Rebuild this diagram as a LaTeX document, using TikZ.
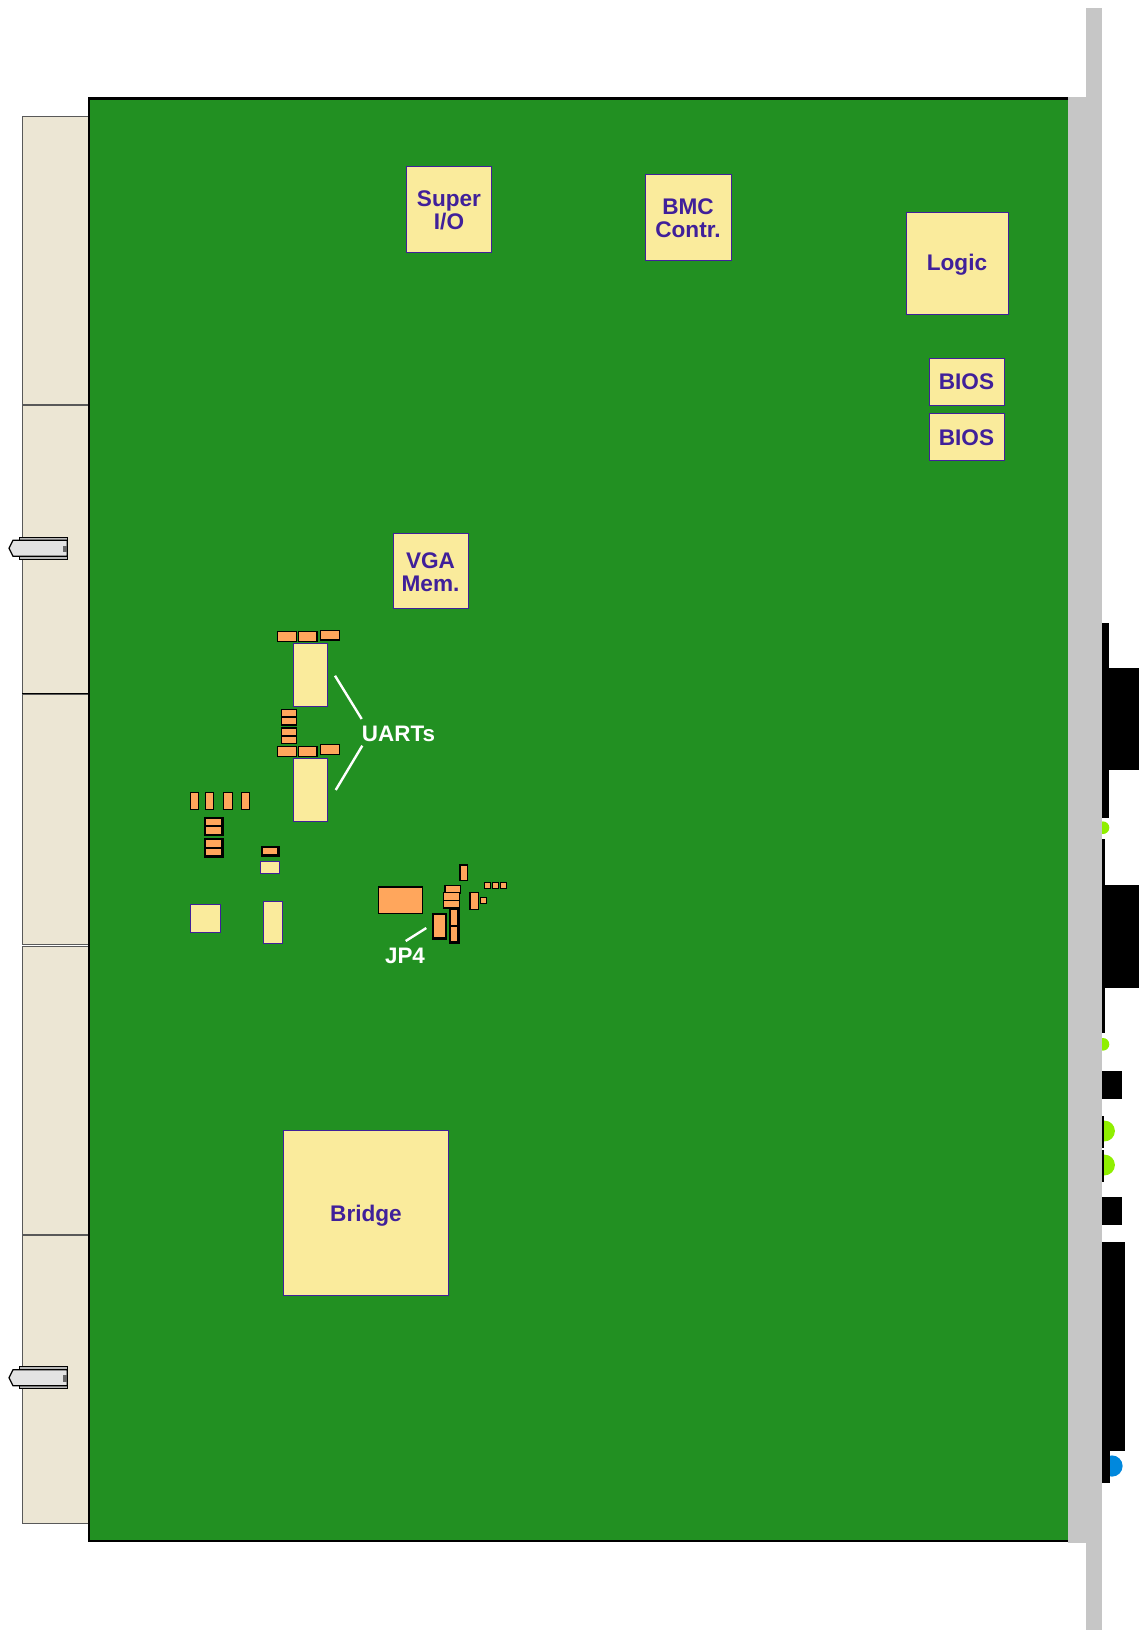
\documentclass[tikz,border=0pt]{standalone}
\usepackage{fontspec}
\setmainfont{Liberation Sans}
\usepackage{xcolor}
\definecolor{boardgreen}{HTML}{229022}
\definecolor{panelgrey}{HTML}{C6C6C6}
\definecolor{facecream}{HTML}{ECE6D4}
\definecolor{chipcream}{HTML}{FAEB9C}
\definecolor{partorange}{HTML}{FFA65C}
\definecolor{chipblue}{HTML}{40209A}
\definecolor{ledgreen}{HTML}{8FEF00}
\definecolor{ledblue}{HTML}{0088DD}
\tikzset{
  chip/.style={draw=chipblue,line width=0.5pt,fill=chipcream},
  part/.style={draw=black,line width=0.6pt,fill=partorange},
  partthick/.style={draw=black,line width=1.2pt,fill=partorange},
  face/.style={draw=black!65,line width=0.5pt,fill=facecream},
  chiplabel/.style={text=chipblue,font=\fontsize{11.3}{11.5}\selectfont\bfseries,align=center,inner sep=0pt},
  whitelabel/.style={text=white,font=\fontsize{11.2}{12}\selectfont\bfseries,inner sep=0pt},
  leader/.style={draw=white,line width=1.2pt},
  plug/.style={fill=black},
}
\begin{document}
\begin{tikzpicture}[x=0.5pt,y=-0.5pt]
        \useasboundingbox (0,0) rectangle (1139,1630);

        % Ansichten der Frontplatte
        \fill[ledgreen] (1103,827.7) circle (6.3);
        \fill[ledgreen] (1103,1044.3) circle (6.3);
        \fill[ledgreen] (1104.5,1131) circle (10.4);
        \fill[ledgreen] (1104.5,1165) circle (10.4);
        \fill[ledblue] (1112,1466) circle (10.6);

        \fill[plug] (1100,622.7) rectangle (1109,817.7);
        \fill[plug] (1100,668) rectangle (1139,770);
        \fill[plug] (1100,839) rectangle (1105,1033);
        \fill[plug] (1100,885) rectangle (1139,987.7);
        \fill[plug] (1100,1071) rectangle (1122,1098.7);
        \fill[plug] (1100,1116) rectangle (1104,1147.7);
        \fill[plug] (1100,1150) rectangle (1104,1181.7);
        \fill[plug] (1100,1197) rectangle (1122,1224.7);
        \fill[plug] (1100,1242) rectangle (1125,1450.7);
        \fill[plug] (1100,1450) rectangle (1110.3,1482.7);

        % Frontblech
        \fill[panelgrey] (1086,8) rectangle (1102,1630);
        \fill[panelgrey] (1068,97) rectangle (1102,1543);

        % Steckerleiste links
        \draw[face] (22,116) rectangle (88,404);
        \draw[face] (22,405) rectangle (88,693);
        \draw[face] (22,694) rectangle (88,944);
        \draw[face] (22,946) rectangle (88,1234);
        \draw[face] (22,1235) rectangle (88,1523);
        \draw[black,line width=0.6pt] (22,693.5) -- (88,693.5);

        % Platine
        \fill[boardgreen] (88.5,98.5) rectangle (1068,1541);
        \draw[black,line width=1.3pt] (1068,98.5) -- (88.8,98.5) -- (88.8,1541) -- (1068,1541);

        % Hebel
        \foreach \dy in {0,829.5} {
          \draw[black,line width=0.6pt,fill=black!28] (19.8,537.3+\dy) rectangle (67.7,559.3+\dy);
          \draw[black,line width=0.6pt,fill=black!11] (9,548.3+\dy) -- (13,540.3+\dy) -- (67.3,540.3+\dy) -- (67.3,556.3+\dy) -- (13,556.3+\dy) -- cycle;
          \fill[black!60] (63.3,545.7+\dy) rectangle (67.3,552+\dy);
        }

        % Bausteine
        \draw[chip] (406,166) rectangle (491.5,252);
        \draw[chip] (645.6,174.5) rectangle (731,260);
        \draw[chip] (906,212) rectangle (1008,314);
        \draw[chip] (929,358) rectangle (1004,405);
        \draw[chip] (929,413.5) rectangle (1004,460);
        \draw[chip] (393.3,533) rectangle (468,608);
        \draw[chip] (293.3,643.3) rectangle (327.7,706.5);
        \draw[chip] (293.3,758) rectangle (327.7,821.7);
        \draw[chip] (283.8,1130) rectangle (448,1295);
        \draw[chip] (260.3,861) rectangle (279.3,873.3);
        \draw[chip] (190,904.3) rectangle (220.7,932.7);
        \draw[chip] (263.7,901.3) rectangle (282.7,943.5);

        \node[chiplabel] (superio) at (449,210) {Super\\I/O};
        \node[chiplabel] (bmc) at (688,218) {BMC\\Contr.};
        \node[chiplabel] (logic) at (957,265) {Logic};
        \node[chiplabel] (biosa) at (966.5,382) {BIOS};
        \node[chiplabel] (biosb) at (966.5,438) {BIOS};
        \node[chiplabel] (vga) at (430.5,572) {VGA\\Mem.};
        \node[chiplabel] (bridge) at (366,1216) {Bridge};

        % Kleinteile an den UARTs
        \foreach \xa/\xb/\ya/\yb in {277.3/296.7/631.7/641.7,298.3/317/631.7/641.7,320.7/339.7/630.3/640,
            277.3/296.7/746.3/756.3,298.3/317/746.3/756.3,320.7/339.7/744.7/754.3,
            281.3/296.7/709.3/717,281.3/296.7/717/725,281.3/296.7/728/736,281.3/296.7/736/743.7,
            190.3/198.7/792.3/809.7,205.3/213.7/792.3/809.7,223.7/232.3/792.3/809.7,241.3/249.7/792.3/809.7}
          \draw[part] (\xa,\ya) rectangle (\xb,\yb);

        \foreach \xa/\xb/\ya/\yb in {204.7/222.3/817.7/826,204.7/222.3/826/834.7,204.7/222.3/839/847.7,204.7/222.3/847.7/856.3,
            261.7/278.3/846.7/855.3}
          \draw[partthick] (\xa,\ya) rectangle (\xb,\yb);

        % Kleinteile bei JP4
        \foreach \xa/\xb/\ya/\yb in {378.3/422.3/887/913.3,460/467.7/865/880.3,445/460.7/885.3/893.3,
            443.3/459.3/892.7/900.3,443.3/459.3/900.3/908,470/478.7/892.3/909.7,480.3/486.7/897.7/903.7,
            484.7/490.3/882.7/888.7,492.3/498.3/882.7/888.7,500.3/506.3/882.7/888.7}
          \draw[part] (\xa,\ya) rectangle (\xb,\yb);

        \foreach \xa/\xb/\ya/\yb in {432.7/445.7/913.7/938.3,449.7/458.3/909/926,449.7/458.3/926/942.3}
          \draw[partthick] (\xa,\ya) rectangle (\xb,\yb);

        % Beschriftung
        \node[whitelabel] (uarts) at (398.5,733.5) {UARTs};
        \node[whitelabel] (jpfour) at (405,955.5) {JP4};

        \coordinate (uartup) at (335,675.7);
        \coordinate (uartupend) at (361.7,719);
        \coordinate (uartdown) at (335.7,790);
        \coordinate (uartdownend) at (362.3,745.7);
        \coordinate (jpend) at (426.3,928);
        \coordinate (jpstart) at (405.7,941);

        \draw[leader] (uartup) -- (uartupend);
        \draw[leader] (uartdown) -- (uartdownend);
        \draw[leader] (jpstart) -- (jpend);
\end{tikzpicture}
\end{document}
